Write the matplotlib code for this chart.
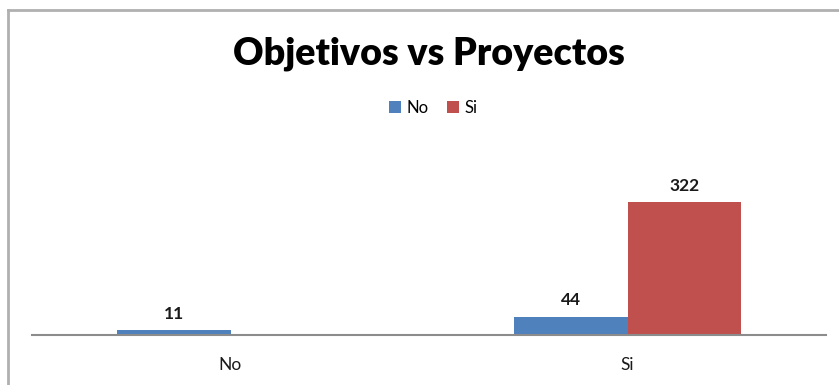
import numpy as np
import matplotlib
matplotlib.use("Agg")
import matplotlib.pyplot as plt
from matplotlib.lines import Line2D
from matplotlib.patches import Patch

plt.rcParams['font.family'] = ['Lato', 'DejaVu Sans']

title = "Objetivos vs Proyectos"
categories = ["No", "Si"]
series_names = ["No", "Si"]
values_no = [11, 44]
values_si = [np.nan, 322]
colors = ["#4F81BD", "#C0504D"]

W, H = 839, 385
fig = plt.figure(figsize=(W / 100, H / 100), dpi=100)

# outer chart frame (left and top edges)
frame_color = "#B0B0B0"
fig.add_artist(Line2D([8 / W, 8 / W], [0, 1 - 10 / H], transform=fig.transFigure,
                      color=frame_color, lw=2))
fig.add_artist(Line2D([8 / W, 1], [1 - 10 / H, 1 - 10 / H], transform=fig.transFigure,
                      color=frame_color, lw=2))

# plot area
left, right, base, top = 32, 826, 335, 135
ax = fig.add_axes([left / W, 1 - base / H, (right - left) / W, (base - top) / H])

x = np.arange(len(categories))
bw = 1 / 3.5
series = [values_no, values_si]
for i, (vals, col) in enumerate(zip(series, colors)):
    offs = (i - 0.5) * bw
    ax.bar(x + offs, vals, width=bw, color=col, edgecolor="none", zorder=2)
    for xi, v in zip(x, vals):
        if v is None or np.isnan(v):
            continue
        ax.annotate(f"{v:g}", (xi + offs, v), xytext=(0, 6), textcoords="offset points",
                    ha="center", va="bottom", fontsize=12.5, fontweight="bold", color="#1a1a1a")

ax.set_xlim(-0.5, len(categories) - 0.5)
ax.set_ylim(0, 484)
ax.set_xticks(x)
ax.set_xticklabels(categories, fontsize=12.5, color="#1a1a1a")
ax.tick_params(axis="x", length=0, pad=16)
ax.set_yticks([])
for s in ["left", "right", "top"]:
    ax.spines[s].set_visible(False)
ax.spines["bottom"].set_color("#8C8C8C")
ax.spines["bottom"].set_linewidth(1.5)
ax.patch.set_alpha(0)

fig.text(429 / W, 1 - 54 / H, title, ha="center", va="center",
         fontsize=27, fontweight="heavy", color="black")

handles = [Patch(facecolor=c, edgecolor="none") for c in colors]
fig.legend(handles, series_names, loc="center", bbox_to_anchor=(433 / W, 1 - 108 / H),
           ncol=2, frameon=False, fontsize=12, handlelength=0.75, handleheight=0.75,
           handletextpad=0.3, columnspacing=1.1)

fig.savefig("out.png", dpi=100)
